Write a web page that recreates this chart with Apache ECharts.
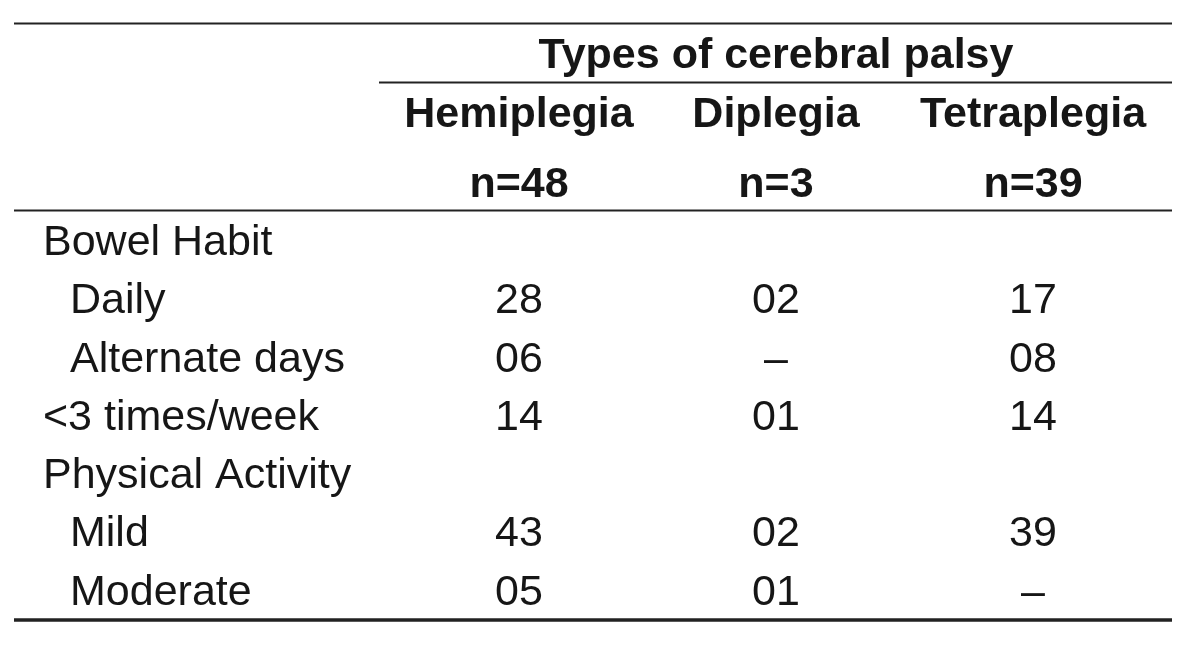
<!DOCTYPE html>
<html>
<head>
<meta charset="utf-8">
<script src="https://cdn.jsdelivr.net/npm/echarts@6/dist/echarts.min.js"></script>
<style>html,body{margin:0;padding:0;background:#fff}#chart{width:1200px;height:664px}</style>
</head>
<body>
<div id="chart"></div>
<script>
// ---- data ----
const spanTitle = 'Types of cerebral palsy';
const columns = ['Hemiplegia', 'Diplegia', 'Tetraplegia'];
const columnN = ['n=48', 'n=3', 'n=39'];
const rows = ['Bowel Habit', 'Daily', 'Alternate days', '<3 times/week', 'Physical Activity', 'Mild', 'Moderate'];
const indented = [false, true, true, false, false, true, true];
const hemiplegia = [null, '28', '06', '14', null, '43', '05'];
const diplegia = [null, '02', '–', '01', null, '02', '01'];
const tetraplegia = [null, '17', '08', '14', null, '39', '–'];

// ---- build ----
const FONT = "'Liberation Sans', Arial, sans-serif";
const FS = 43;
const INK = '#161616';
const xCats = [''].concat(columns);
const colValues = [hemiplegia, diplegia, tetraplegia];

function cellSeries(ci) {
  const vals = colValues[ci];
  const data = [];
  vals.forEach((v, ri) => { if (v !== null) data.push([columns[ci], rows[ri], v]); });
  return {
    type: 'scatter', xAxisIndex: 0, yAxisIndex: 0,
    symbolSize: 0, data: data, silent: true,
    itemStyle: { opacity: 1 },
    label: {
      show: true, position: 'inside', formatter: p => p.value[2],
      color: INK, opacity: 1, fontFamily: FONT, fontSize: FS, align: 'center', verticalAlign: 'middle'
    }
  };
}

const chart = echarts.init(document.getElementById('chart'), null, { renderer: 'canvas' });
const axisCommon = {
  type: 'category', data: xCats, position: 'top', boundaryGap: true,
  axisLine: { show: false }, axisTick: { show: false }, splitLine: { show: false }
};
const option = {
  backgroundColor: '#ffffff',
  animation: false,
  grid: { left: 133.5, right: 38.5, top: 214, bottom: 42, containLabel: false },
  xAxis: [
    Object.assign({}, axisCommon, {
      axisLabel: {
        interval: 0, margin: 99, color: INK, fontFamily: FONT, fontSize: FS, fontWeight: 'bold',
        verticalAlign: 'middle'
      }
    }),
    Object.assign({}, axisCommon, {
      axisLabel: {
        interval: 0, margin: 29, color: INK, fontFamily: FONT, fontSize: FS, fontWeight: 'bold',
        verticalAlign: 'middle',
        formatter: (v, i) => i === 0 ? '' : columnN[i - 1]
      }
    })
  ],
  yAxis: {
    type: 'category', data: rows, inverse: true, boundaryGap: true,
    axisLine: { show: false }, axisTick: { show: false }, splitLine: { show: false },
    axisLabel: {
      interval: 0, margin: 90.5, align: 'left', verticalAlign: 'middle',
      color: INK, fontFamily: FONT, fontSize: FS,
      formatter: (v, i) => indented[i] ? '{ind|' + v + '}' : '{top|' + v + '}',
      rich: {
        top: { color: INK, fontFamily: FONT, fontSize: FS },
        ind: { color: INK, fontFamily: FONT, fontSize: FS, padding: [0, 0, 0, 27] }
      }
    }
  },
  graphic: [
    { type: 'line', shape: { x1: 14, y1: 23.5, x2: 1172, y2: 23.5 }, style: { stroke: '#222', lineWidth: 2 } },
    { type: 'line', shape: { x1: 379, y1: 82.5, x2: 1172, y2: 82.5 }, style: { stroke: '#222', lineWidth: 2 } },
    { type: 'line', shape: { x1: 14, y1: 210.5, x2: 1172, y2: 210.5 }, style: { stroke: '#222', lineWidth: 2 } },
    { type: 'line', shape: { x1: 14, y1: 620, x2: 1172, y2: 620 }, style: { stroke: '#222', lineWidth: 3.5 } },
    { type: 'text', x: 776, y: 56, style: { text: spanTitle, fill: INK, font: 'bold ' + FS + "px 'Liberation Sans', Arial, sans-serif", textAlign: 'center', textVerticalAlign: 'middle' } }
  ],
  series: [cellSeries(0), cellSeries(1), cellSeries(2)]
};
chart.setOption(option);
</script>
</body>
</html>
